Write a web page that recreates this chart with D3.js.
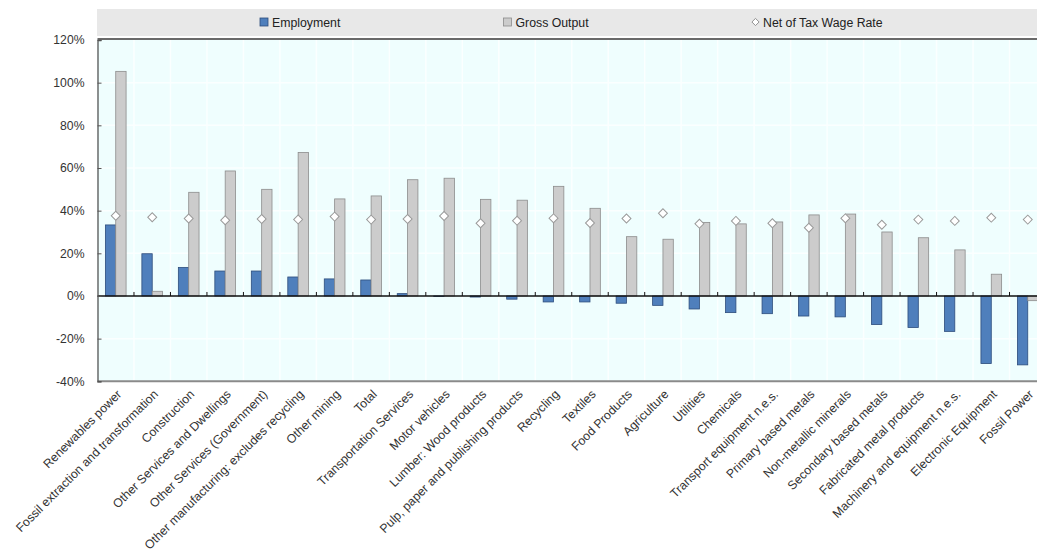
<!DOCTYPE html>
<html>
<head>
<meta charset="utf-8">
<script src="https://cdn.jsdelivr.net/npm/d3@7"></script>
<style>
  html, body { margin: 0; padding: 0; background: #fff; }
  svg { display: block; font-family: "Liberation Sans", Arial, sans-serif; }
</style>
</head>
<body>
<svg id="chart" width="1037" height="554"></svg>
<script>
const categories = [
  "Renewables power", "Fossil extraction and transformation", "Construction",
  "Other Services and Dwellings", "Other Services (Government)",
  "Other manufacturing: excludes recycling", "Other mining", "Total",
  "Transportation Services", "Motor vehicles", "Lumber: Wood products",
  "Pulp, paper and publishing products", "Recycling", "Textiles", "Food Products",
  "Agriculture", "Utilities", "Chemicals", "Transport equipment n.e.s.",
  "Primary based metals", "Non-metallic minerals", "Secondary based metals",
  "Fabricated metal products", "Machinery and equipment n.e.s.",
  "Electronic Equipment", "Fossil Power"
];
const employment = [33.3, 19.8, 13.4, 11.7, 11.7, 8.9, 8.0, 7.5, 1.1, -0.2, -0.5, -1.5,
  -2.8, -2.8, -3.4, -4.4, -6.1, -7.8, -8.3, -9.4, -9.8, -13.4, -14.8, -16.6, -31.7, -32.3];
const grossOutput = [105.3, 2.2, 48.6, 58.6, 50.0, 67.3, 45.5, 46.9, 54.5, 55.2, 45.3, 44.9,
  51.4, 41.1, 27.8, 26.6, 34.5, 33.8, 34.7, 38.0, 38.4, 30.0, 27.3, 21.6, 10.2, -2.2];
const wageRate = [37.6, 36.9, 36.3, 35.5, 36.1, 35.9, 37.2, 35.8, 36.1, 37.5, 34.1, 35.3,
  36.4, 34.2, 36.3, 38.8, 33.9, 35.2, 34.1, 32.0, 36.4, 33.4, 35.8, 35.2, 36.7, 35.8];
const yTicks = [-40, -20, 0, 20, 40, 60, 80, 100, 120];
const seriesNames = ["Employment", "Gross Output", "Net of Tax Wage Rate"];

const svg = d3.select("#chart");
const pLeft = 97.5, pRight = 1046, pTop = 40, pBottom = 381.3;

const x = d3.scaleBand().domain(categories).range([pLeft, pRight]).padding(0);
const x1 = d3.scaleBand().domain(seriesNames.slice(0, 2)).range([0, x.bandwidth()])
  .paddingInner(0).paddingOuter(0.763);
const y = d3.scaleLinear().domain([-40, 120]).range([pBottom, pTop]);

// legend band
svg.append("rect").attr("x", 97).attr("y", 9).attr("width", 1037 - 97).attr("height", 27)
  .attr("fill", "#e8e8e8");

// plot background
svg.append("rect").attr("x", pLeft).attr("y", pTop - 1).attr("width", pRight - pLeft)
  .attr("height", pBottom - pTop + 1).attr("fill", "#effefe");

// gridlines
const grid = svg.append("g");
grid.selectAll("line.v").data(categories.slice(1)).join("line")
  .attr("class", "v")
  .attr("x1", d => x(d)).attr("x2", d => x(d))
  .attr("y1", pTop).attr("y2", pBottom)
  .attr("stroke", "#fbffff").attr("stroke-width", 1.5);
grid.selectAll("line.h").data(yTicks.filter(t => t !== 0 && t !== -40 && t !== 120)).join("line")
  .attr("class", "h")
  .attr("x1", pLeft).attr("x2", pRight)
  .attr("y1", d => y(d)).attr("y2", d => y(d))
  .attr("stroke", "#fbffff").attr("stroke-width", 1.5);

// bars
const groups = svg.append("g").selectAll("g").data(categories).join("g")
  .attr("transform", d => `translate(${x(d)},0)`);
groups.append("rect")
  .attr("x", x1("Employment"))
  .attr("width", x1.bandwidth())
  .attr("y", (d, i) => y(Math.max(0, employment[i])))
  .attr("height", (d, i) => Math.abs(y(employment[i]) - y(0)))
  .attr("fill", "#4f7fbc").attr("stroke", "#2d4d7c").attr("stroke-width", 0.8);
groups.append("rect")
  .attr("x", x1("Gross Output"))
  .attr("width", x1.bandwidth())
  .attr("y", (d, i) => y(Math.max(0, grossOutput[i])))
  .attr("height", (d, i) => Math.abs(y(grossOutput[i]) - y(0)))
  .attr("fill", "#cccccc").attr("stroke", "#8c8c8c").attr("stroke-width", 0.8);

// zero line
svg.append("line").attr("x1", pLeft).attr("x2", pRight).attr("y1", y(0)).attr("y2", y(0))
  .attr("stroke", "#111").attr("stroke-width", 1.3);
// category ticks on zero line
svg.append("g").selectAll("line").data(categories.slice(1)).join("line")
  .attr("x1", d => x(d)).attr("x2", d => x(d))
  .attr("y1", y(0)).attr("y2", y(0) - 4)
  .attr("stroke", "#111").attr("stroke-width", 1);

// diamonds
const diamond = d3.symbol().type(d3.symbolSquare).size(40);
svg.append("g").selectAll("path").data(categories).join("path")
  .attr("d", diamond)
  .attr("transform", (d, i) => `translate(${x(d) + x.bandwidth() / 2},${y(wageRate[i])}) rotate(45)`)
  .attr("fill", "#ffffff").attr("stroke", "#9a9a9a").attr("stroke-width", 1);

// frame lines
svg.append("line").attr("x1", pLeft).attr("x2", pRight).attr("y1", pTop - 1).attr("y2", pTop - 1)
  .attr("stroke", "#6a6a6a").attr("stroke-width", 1.8);
svg.append("line").attr("x1", pLeft).attr("x2", pRight).attr("y1", pBottom).attr("y2", pBottom)
  .attr("stroke", "#8a8a8a").attr("stroke-width", 2);

// y axis
const yAxis = d3.axisLeft(y).tickValues(yTicks).tickSize(-4).tickPadding(13)
  .tickFormat(d => d + "%");
const yg = svg.append("g").attr("transform", `translate(${pLeft},0)`).call(yAxis);
yg.select(".domain").attr("stroke", "#555").attr("stroke-width", 1.3);
yg.selectAll(".tick line").attr("stroke", "#555");
yg.selectAll(".tick text").attr("fill", "#333").attr("font-size", "12.2px")
  .attr("font-family", "'Liberation Sans', Arial, sans-serif");

// x labels
svg.append("g").selectAll("text").data(categories).join("text")
  .attr("transform", d => `translate(${x(d) + x.bandwidth() / 2 + 6.5},395) rotate(-45)`)
  .attr("text-anchor", "end")
  .attr("font-size", "12.3px").attr("fill", "#333")
  .text(d => d);

// legend
const lg = svg.append("g").attr("font-size", "12.3px").attr("fill", "#222");
lg.append("rect").attr("x", 260).attr("y", 18).attr("width", 8).attr("height", 8)
  .attr("fill", "#4f7fbc").attr("stroke", "#2d4d7c").attr("stroke-width", 0.8);
lg.append("text").attr("x", 272).attr("y", 26.5).text(seriesNames[0]);
lg.append("rect").attr("x", 503.5).attr("y", 18).attr("width", 8).attr("height", 8)
  .attr("fill", "#cccccc").attr("stroke", "#8c8c8c").attr("stroke-width", 0.8);
lg.append("text").attr("x", 515.5).attr("y", 26.5).text(seriesNames[1]);
lg.append("path").attr("d", d3.symbol().type(d3.symbolSquare).size(26))
  .attr("transform", "translate(755.5,22) rotate(45)")
  .attr("fill", "#fff").attr("stroke", "#8c8c8c").attr("stroke-width", 0.9);
lg.append("text").attr("x", 763).attr("y", 26.5).text(seriesNames[2]);
</script>
</body>
</html>
